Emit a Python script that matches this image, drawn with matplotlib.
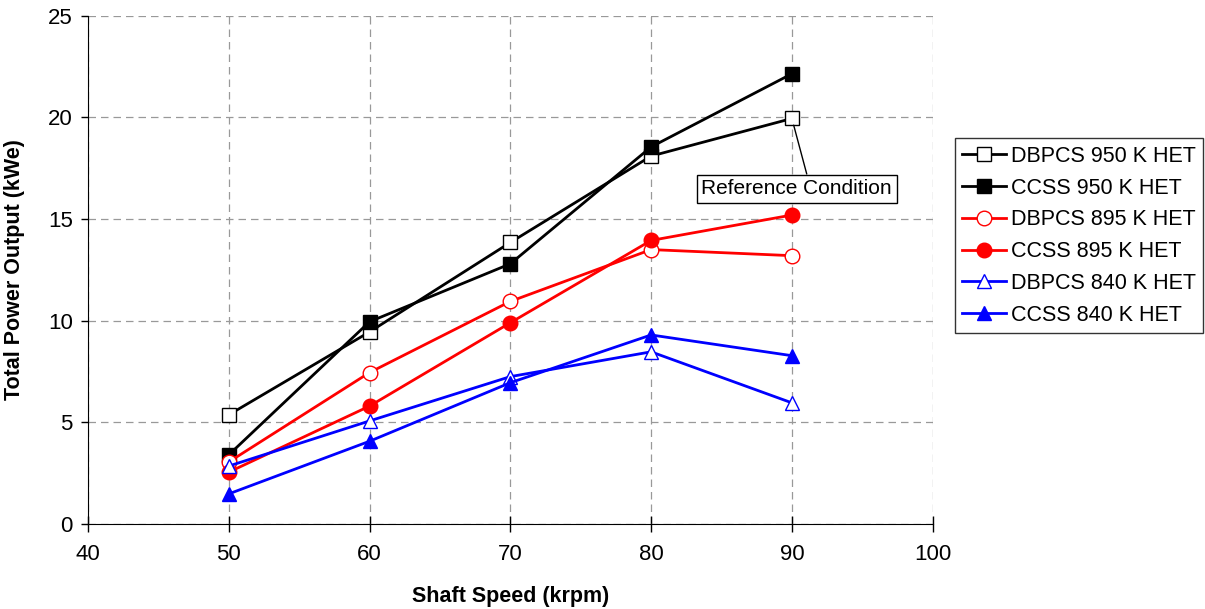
import matplotlib
matplotlib.use('Agg')
import matplotlib.pyplot as plt

plt.rcParams['font.family'] = ['Liberation Sans', 'DejaVu Sans']

# shaft speed (krpm)
speed = [50, 60, 70, 80, 90]

# total power output (kWe)
dbpcs_950 = [5.37, 9.45, 13.85, 18.1, 19.95]
ccss_950 = [3.4, 9.95, 12.8, 18.55, 22.15]
dbpcs_895 = [3.05, 7.45, 10.95, 13.5, 13.2]
ccss_895 = [2.55, 5.8, 9.9, 13.95, 15.2]
dbpcs_840 = [2.85, 5.07, 7.25, 8.47, 5.96]
ccss_840 = [1.48, 4.07, 6.95, 9.3, 8.28]

fig = plt.figure(figsize=(12.05, 6.09), dpi=100)
ax = fig.add_axes([0.073, 0.1396, 0.701, 0.8344])

# (label, data, colour, marker, filled)
series = [
    ('DBPCS 950 K HET', dbpcs_950, 'black', 's', False),
    ('CCSS 950 K HET', ccss_950, 'black', 's', True),
    ('DBPCS 895 K HET', dbpcs_895, 'red', 'o', False),
    ('CCSS 895 K HET', ccss_895, 'red', 'o', True),
    ('DBPCS 840 K HET', dbpcs_840, 'blue', '^', False),
    ('CCSS 840 K HET', ccss_840, 'blue', '^', True),
]
for label, data, col, mk, filled in series:
    ax.plot(speed, data, color=col, lw=2.0, marker=mk, markersize=10.5,
            markerfacecolor=col if filled else 'white', markeredgecolor=col,
            markeredgewidth=1.0, label=label, clip_on=False, zorder=3)

ax.set_xlim(40, 100)
ax.set_ylim(0, 25)
ax.set_xticks(range(40, 101, 10))
ax.set_yticks(range(0, 26, 5))
ax.grid(True, color='#999999', linestyle=(0, (6, 4)), lw=0.9)
ax.tick_params(labelsize=16, width=1)
ax.tick_params(axis='y', direction='out', length=5, pad=6)
ax.tick_params(axis='x', direction='inout', length=11, pad=9)
for s in ['top', 'right']:
    ax.spines[s].set_visible(False)
ax.set_xlabel('Shaft Speed (krpm)', fontsize=15.5, fontweight='bold')
ax.set_ylabel('Total Power Output (kWe)', fontsize=15.5, fontweight='bold')
ax.xaxis.set_label_coords(0.5, -0.122)
ax.yaxis.set_label_coords(-0.0746, 0.5)

# reference point callout
ax.annotate('Reference Condition', xy=(90, dbpcs_950[-1]), xytext=(90.34, 16.5),
            fontsize=15, ha='center', va='center',
            bbox=dict(boxstyle='square,pad=0.22', fc='white', ec='black', lw=1),
            arrowprops=dict(arrowstyle='-', color='black', lw=1, shrinkA=0, shrinkB=5,
                            relpos=(0.56, 1.0)))

leg = fig.legend(loc='upper left', bbox_to_anchor=(0.7925, 0.773),
                 fontsize=15.5, frameon=True, fancybox=False, edgecolor='black',
                 handlelength=2.0, handletextpad=0.23, labelspacing=0.5,
                 borderpad=0.35, borderaxespad=0)
leg.get_frame().set_linewidth(1)

fig.savefig('out.png', dpi=100)
